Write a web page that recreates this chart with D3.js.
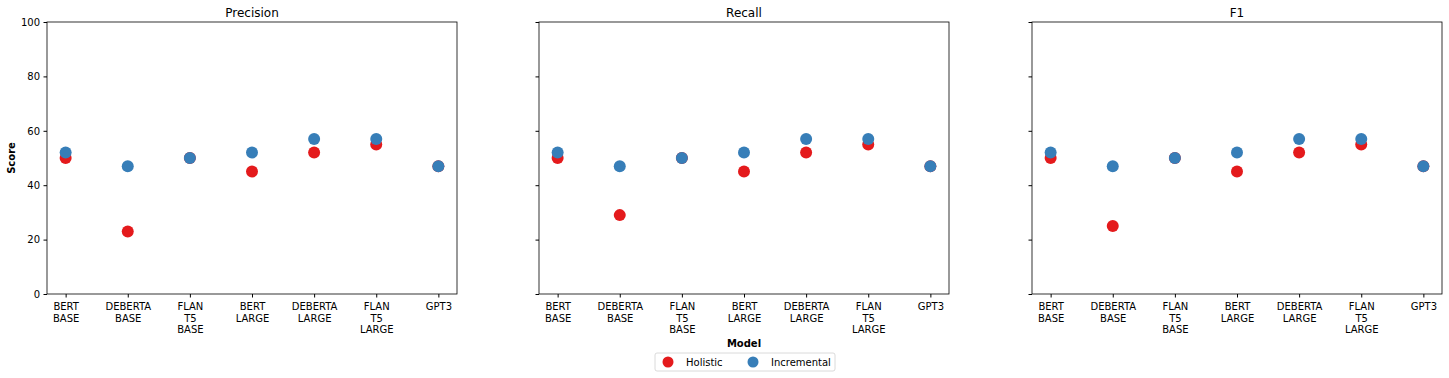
<!DOCTYPE html>
<html>
<head>
<meta charset="utf-8">
<script src="https://cdn.jsdelivr.net/npm/d3@7"></script>
<style>
  body { margin: 0; background: #fff; }
  text { font-family: "DejaVu Sans", sans-serif; fill: #000; }
</style>
</head>
<body>
<svg id="chart" width="1449" height="378"></svg>
<script>
// model names (shown on two or three lines under each tick)
var models = ['BERT BASE', 'DEBERTA BASE', 'FLAN T5 BASE', 'BERT LARGE', 'DEBERTA LARGE', 'FLAN T5 LARGE', 'GPT3'];
var modelLabels = [['BERT', 'BASE'], ['DEBERTA', 'BASE'], ['FLAN', 'T5', 'BASE'], ['BERT', 'LARGE'],
                   ['DEBERTA', 'LARGE'], ['FLAN', 'T5', 'LARGE'], ['GPT3']];
var metrics = ['Precision', 'Recall', 'F1'];
var methods = ['Holistic', 'Incremental'];
var yTicks = [0, 20, 40, 60, 80, 100];

// scores
var precisionHolistic = [50, 23, 50, 45, 52, 55, 47];
var precisionIncremental = [52, 47, 50, 52, 57, 57, 47];
var recallHolistic = [50, 29, 50, 45, 52, 55, 47];
var recallIncremental = [52, 47, 50, 52, 57, 57, 47];
var f1Holistic = [50, 25, 50, 45, 52, 55, 47];
var f1Incremental = [52, 47, 50, 52, 57, 57, 47];

var scores = {
  Precision: [precisionHolistic, precisionIncremental],
  Recall: [recallHolistic, recallIncremental],
  F1: [f1Holistic, f1Incremental]
};
var colors = ['#e41a1c', '#377eb8'];

var svg = d3.select('#chart');
var panelLeft = [47, 539, 1032], panelW = 410;
var plotTop = 22, plotBottom = 294;

var y = d3.scaleLinear().domain([0, 100]).range([plotBottom, plotTop]);

metrics.forEach(function(m, i) {
  var x0 = panelLeft[i];
  var x = d3.scaleLinear().domain([-0.3, 6.3]).range([x0, x0 + panelW]);
  var g = svg.append('g');

  // y axis
  var ya = g.append('g').attr('transform', 'translate(' + x0 + ',0)')
    .call(d3.axisLeft(y).tickValues(yTicks).tickSize(3.5).tickPadding(3.5)
      .tickFormat(i === 0 ? d3.format('d') : ''));
  ya.select('.domain').remove();
  ya.selectAll('text').style('font-size', '10px').style('font-family', 'DejaVu Sans');

  // x axis
  var xa = g.append('g').attr('transform', 'translate(0,' + plotBottom + ')')
    .call(d3.axisBottom(x).tickValues(d3.range(models.length)).tickSize(3.5).tickFormat(''));
  xa.select('.domain').remove();
  xa.selectAll('.tick').each(function(d) {
    var t = d3.select(this).append('text').attr('text-anchor', 'middle')
      .style('font-size', '10px').attr('y', 16);
    modelLabels[d].forEach(function(line, k) {
      t.append('tspan').attr('x', 0).attr('dy', k === 0 ? 0 : 11.5).text(line);
    });
  });

  // frame
  g.append('rect').attr('x', x0).attr('y', plotTop).attr('width', panelW).attr('height', plotBottom - plotTop)
    .attr('fill', 'none').attr('stroke', '#000').attr('stroke-width', 0.8);

  g.append('text').attr('x', x0 + panelW / 2).attr('y', 17).attr('text-anchor', 'middle')
    .style('font-size', '12px').text(m);

  // points, incremental on top
  scores[m].forEach(function(vals, s) {
    g.selectAll('circle.s' + s).data(vals).enter().append('circle')
      .attr('class', 's' + s)
      .attr('cx', function(d, j) { return x(j); })
      .attr('cy', function(d) { return y(d); })
      .attr('r', 6)
      .attr('fill', colors[s]);
  });
});

// axis titles
svg.append('text').attr('transform', 'translate(15,158) rotate(-90)').attr('text-anchor', 'middle')
  .style('font-size', '10px').style('font-weight', 'bold').text('Score');
svg.append('text').attr('x', 744).attr('y', 347).attr('text-anchor', 'middle')
  .style('font-size', '10px').style('font-weight', 'bold').text('Model');

// legend
var lg = svg.append('g');
lg.append('rect').attr('x', 655).attr('y', 353).attr('width', 180).attr('height', 18).attr('rx', 2)
  .attr('fill', '#fff').attr('stroke', '#d0d0d0').attr('stroke-width', 0.8);
var legendX = [668, 753];
methods.forEach(function(name, s) {
  lg.append('circle').attr('cx', legendX[s]).attr('cy', 362).attr('r', 5.5).attr('fill', colors[s]);
  lg.append('text').attr('x', legendX[s] + 18).attr('y', 366).style('font-size', '10px').text(name);
});
</script>
</body>
</html>
